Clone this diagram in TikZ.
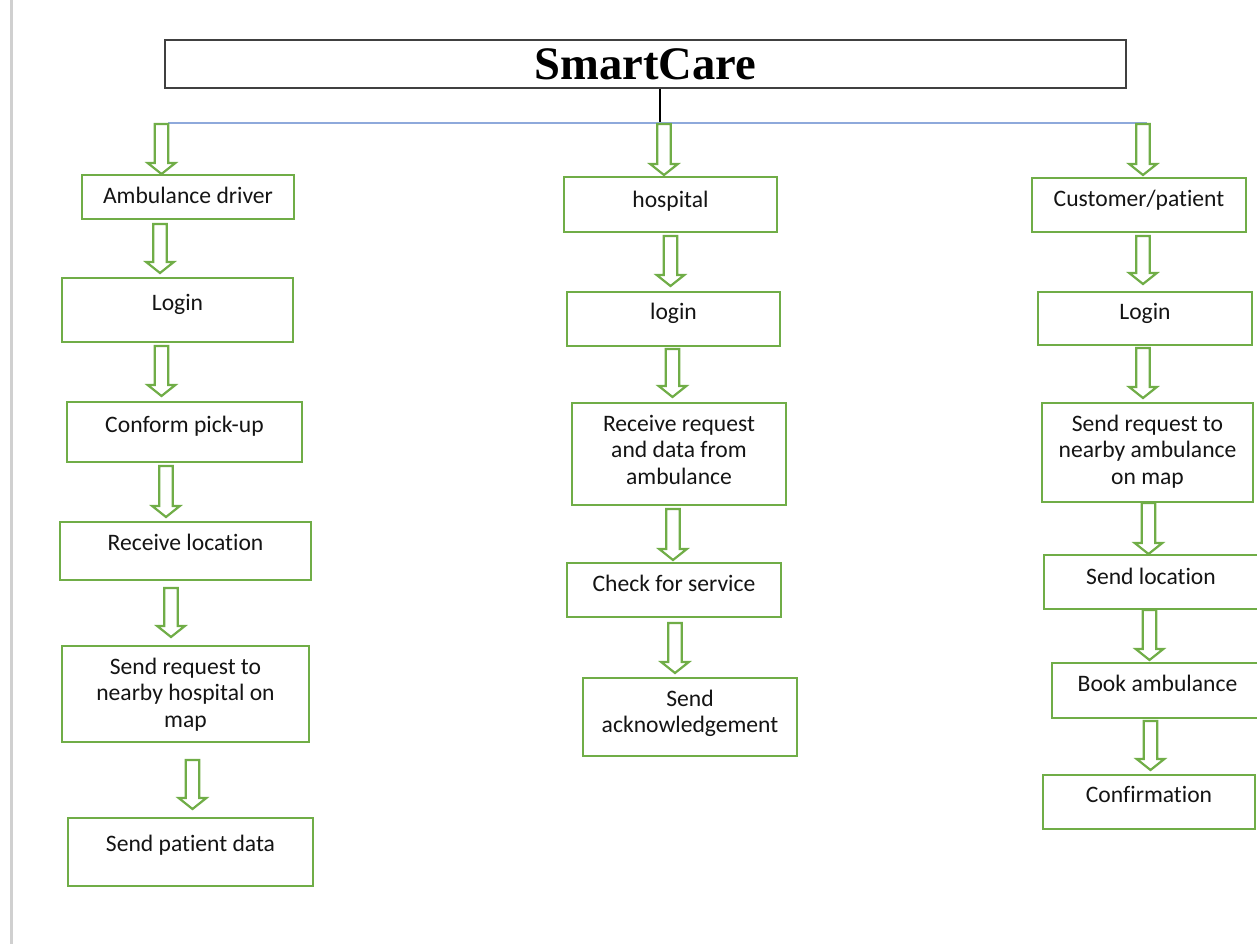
\documentclass[tikz,border=0pt]{standalone}
\usepackage{fontspec}
\setmainfont[Ligatures=NoCommon]{Carlito}
\newfontfamily\titlefont{Liberation Serif}
\usetikzlibrary{calc}
\definecolor{gr}{HTML}{70AD47}
\definecolor{bl}{HTML}{8EA9DB}
\definecolor{tb}{HTML}{404040}
\definecolor{txt}{HTML}{141414}
\definecolor{side}{HTML}{D0D0D0}
\tikzset{
  gbox/.style={draw=gr, line width=1pt, inner sep=0pt, outer sep=0pt},
  gtxt/.style={inner sep=0pt, align=center, text=txt, font=\fontsize{11.8}{13.3}\selectfont},
  garrow/.style={draw=gr, line width=1.1pt, line join=miter, fill=white},
  titlebox/.style={draw=tb, line width=0.75pt, inner sep=0pt, text=black,
     font=\titlefont\bfseries\fontsize{23.3}{26}\selectfont},
  busline/.style={draw=bl, line width=0.75pt},
  stemline/.style={draw=black, line width=0.75pt}
}
% box: name, x1, y1, x2, y2, text offset (px), text
\newcommand\gb[7]{%
  \node[gbox, minimum width={(#4-#2)*0.5pt}, minimum height={(#5-#3)*0.5pt}]
     (#1) at ({(#2+#4)/2},{(#3+#5)/2}) {};
  \node[gtxt, anchor=north] (#1t) at ($(#1.north)+(0,#6-11.7)$) {\strut #7};
}
% hollow block arrow: x (px), from point, to point, top gap (px), bottom gap (px)
\newcommand\ga[5]{%
  \draw[garrow] let \p1=($(#2)+(0,#4)$), \p2=($(#3)+(0,-#5)$), \n1={#1*0.5pt} in
    (\n1-3.4pt,\y1) -- (\n1+3.4pt,\y1) -- (\n1+3.4pt,\y2+5.5pt) -- (\n1+6.9pt,\y2+5.5pt)
    -- (\n1,\y2) -- (\n1-6.9pt,\y2+5.5pt) -- (\n1-3.4pt,\y2+5.5pt) -- cycle;
}
\begin{document}
\begin{tikzpicture}[x=0.5pt,y=-0.5pt]
\useasboundingbox (0,0) rectangle (1257,944);
\fill[side] (10,0) rectangle (13,944);

% title and bus
\node[titlebox, minimum width={(1126-165)*0.5pt}, minimum height={(88-40)*0.5pt}]
   (title) at (645.5,64) {SmartCare};
\coordinate (tj) at (660,123);
\coordinate (busL) at (168,123);
\coordinate (busR) at (1147,123);
\draw[stemline] (title.south -| tj) -- (tj);
\draw[busline] (busL) -- (busR);
\coordinate (b1) at (161.5,123);
\coordinate (b2) at (664,123);
\coordinate (b3) at (1143,123);

% left column
\gb{L1}{82}{175}{294}{219}{21}{Ambulance driver}
\gb{L2}{62}{278}{293}{342}{25}{Login}
\gb{L3}{67}{402}{302}{462}{23}{Conform pick-up}
\gb{L4}{60}{522}{311}{580}{21}{Receive location}
\gb{L5}{62}{646}{309}{742}{21}{Send request to\\nearby hospital on\\map}
\gb{L6}{68}{818}{313}{886}{26}{Send patient data}

% middle column
\gb{M1}{564}{177}{777}{232}{23}{hospital}
\gb{M2}{567}{292}{780}{346}{20}{login}
\gb{M3}{572}{403}{786}{505}{21}{Receive request\\and data from\\ambulance}
\gb{M4}{567}{563}{781}{617}{21}{Check for service}
\gb{M5}{583}{678}{797}{756}{21}{Send\\acknowledgement}

% right column
\gb{R1}{1032}{178}{1246}{232}{21}{Customer/patient}
\gb{R2}{1038}{292}{1252}{345}{20}{Login}
\gb{R3}{1042}{403}{1253}{502}{21}{Send request to\\nearby ambulance\\on map}
\gb{R4}{1044}{555}{1258}{609}{22}{Send location}
\gb{R5}{1052}{663}{1263}{718}{21}{Book ambulance}
\gb{R6}{1043}{775}{1255}{829}{20}{Confirmation}

% arrows left
\ga{161.5}{b1}{L1.north}{1}{1}
\ga{160}{L1.south}{L2.north}{5}{5}
\ga{161.5}{L2.south}{L3.north}{4}{6}
\ga{166}{L3.south}{L4.north}{4}{5}
\ga{171}{L4.south}{L5.north}{8}{9}
\ga{192.5}{L5.south}{L6.north}{18}{9}
% arrows middle
\ga{664}{b2}{M1.north}{1}{2}
\ga{670.5}{M1.south}{M2.north}{4}{6}
\ga{672.5}{M2.south}{M3.north}{3}{6}
\ga{673}{M3.south}{M4.north}{4}{3}
\ga{675}{M4.south}{M5.north}{6}{5}
% arrows right
\ga{1143}{b3}{R1.north}{1}{3}
\ga{1143}{R1.south}{R2.north}{4}{8}
\ga{1143}{R2.south}{R3.north}{3}{5}
\ga{1148.5}{R3.south}{R4.north}{1}{1}
\ga{1149.5}{R4.south}{R5.north}{1}{3}
\ga{1150.5}{R5.south}{R6.north}{3}{5}
\end{tikzpicture}
\end{document}
